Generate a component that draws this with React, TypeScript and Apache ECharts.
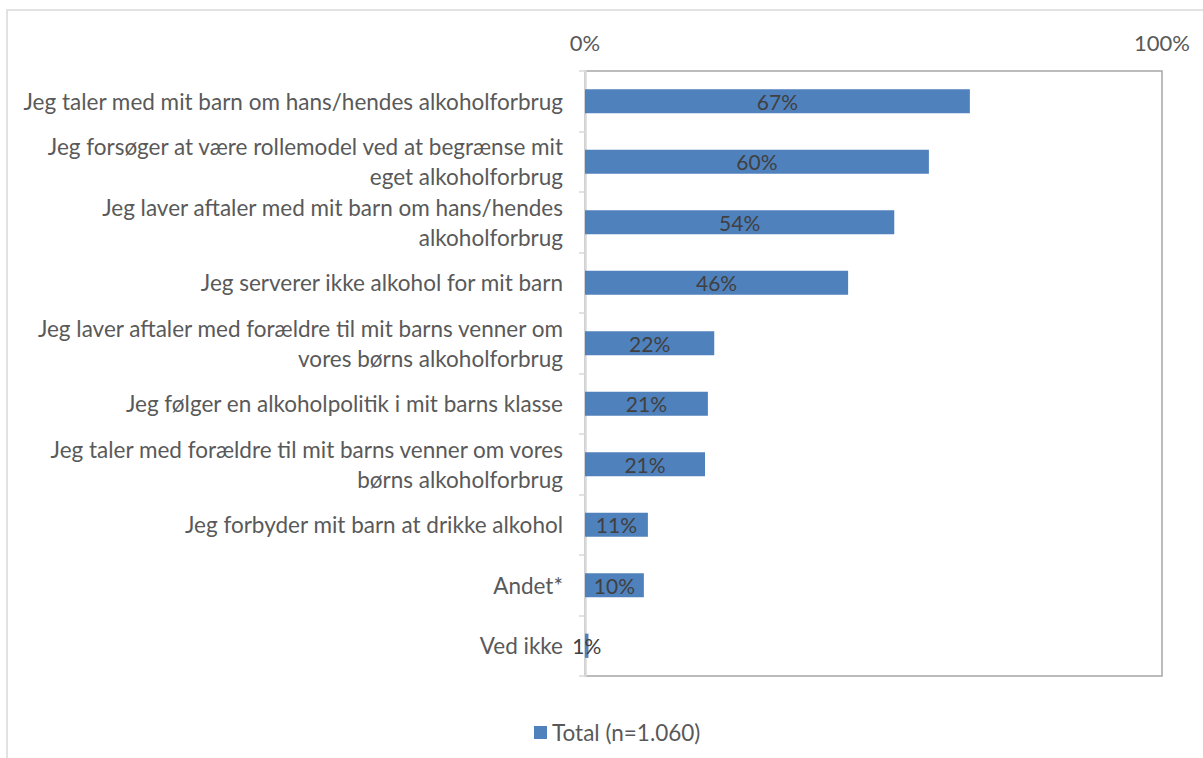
import React, { useEffect, useRef } from "react";
import * as echarts from "echarts";

const categories = [
  "Jeg taler med mit barn om hans/hendes alkoholforbrug",
  "Jeg forsøger at være rollemodel ved at begrænse mit\neget alkoholforbrug",
  "Jeg laver aftaler med mit barn om hans/hendes\nalkoholforbrug",
  "Jeg serverer ikke alkohol for mit barn",
  "Jeg laver aftaler med forældre til mit barns venner om\nvores børns alkoholforbrug",
  "Jeg følger en alkoholpolitik i mit barns klasse",
  "Jeg taler med forældre til mit barns venner om vores\nbørns alkoholforbrug",
  "Jeg forbyder mit barn at drikke alkohol",
  "Andet*",
  "Ved ikke",
];
const values = [66.7, 59.6, 53.6, 45.6, 22.4, 21.3, 20.8, 10.9, 10.2, 0.6];
const seriesName = "Total (n=1.060)";
const FONT = "Lato, sans-serif";

export default function App() {
  const ref = useRef<HTMLDivElement>(null);
  useEffect(() => {
    const chart = echarts.init(ref.current!, null, { renderer: "svg" });
    chart.setOption({
      animation: false,
      textStyle: { fontFamily: FONT },
      grid: {
        left: 585,
        top: 71,
        right: 41,
        bottom: 82,
        show: true,
        borderColor: "#a6a6a6",
        borderWidth: 1.5,
      },
      legend: {
        left: 529,
        top: 716,
        icon: "rect",
        itemWidth: 13,
        itemHeight: 13,
        itemGap: 5,
        textStyle: { color: "#595959", fontSize: 22.5, fontFamily: FONT },
        data: [seriesName],
      },
      graphic: [
        {
          type: "rect",
          shape: { x: 7, y: 10, width: 1220, height: 770 },
          style: { fill: "none", stroke: "#d9d9d9", lineWidth: 1.5 },
          silent: true,
        },
      ],
      xAxis: {
        type: "value",
        position: "top",
        min: 0,
        max: 100,
        interval: 100,
        axisLine: { show: false },
        axisTick: { show: false },
        splitLine: { show: false },
        axisLabel: {
          color: "#595959",
          fontSize: 22,
          fontFamily: FONT,
          margin: 18,
          formatter: (v: number) => v + "%",
        },
      },
      yAxis: {
        type: "category",
        inverse: true,
        data: categories,
        axisLine: { show: true, lineStyle: { color: "#d9d9d9", width: 2.5 } },
        axisTick: { show: true, length: 6, lineStyle: { color: "#d9d9d9", width: 1.5 } },
        axisLabel: {
          color: "#595959",
          fontSize: 22.5,
          fontFamily: FONT,
          margin: 22,
          align: "right",
          lineHeight: 30,
        },
      },
      series: [
        {
          name: seriesName,
          type: "bar",
          data: values,
          barWidth: "40%",
          itemStyle: { color: "#4f81bd" },
          label: {
            show: true,
            position: "inside",
            color: "#404040",
            fontSize: 21,
            fontFamily: FONT,
            formatter: (p: any) => Math.round(p.value) + "%",
          },
        },
      ],
    });
    return () => chart.dispose();
  }, []);
  return (
    <div
      ref={ref}
      style={{ position: "absolute", left: 0, top: 0, width: 1203, height: 758, background: "#fff" }}
    />
  );
}
